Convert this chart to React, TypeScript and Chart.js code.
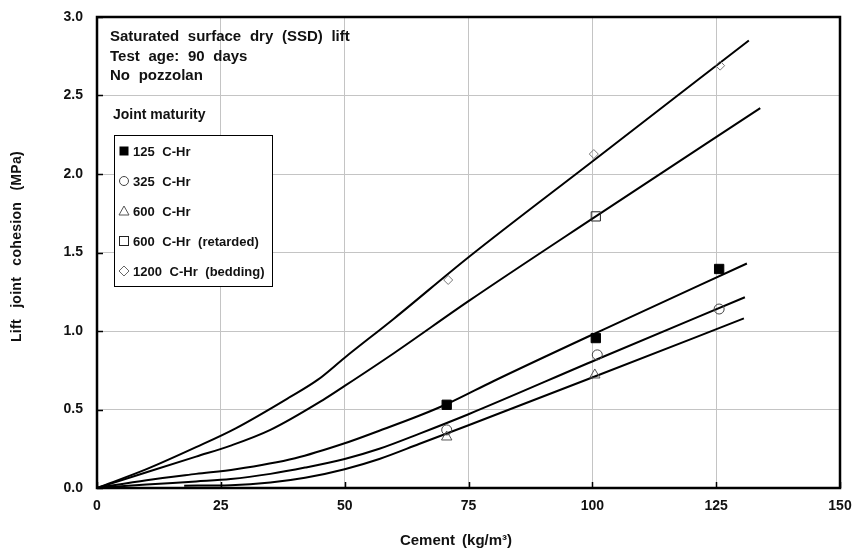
import { useEffect, useRef } from "react";
import { Chart, registerables } from "chart.js";

Chart.register(...registerables);

// Axis ticks
const xTicks = [0, 25, 50, 75, 100, 125, 150];
const yTicks = [0, 0.5, 1.0, 1.5, 2.0, 2.5, 3.0];

// Legend / series names
const seriesNames = [
  "125 C-Hr",
  "325 C-Hr",
  "600 C-Hr",
  "600 C-Hr (retarded)",
  "1200 C-Hr (bedding)",
];

const noteLines = ["Saturated surface dry (SSD) lift", "Test age: 90 days", "No pozzolan"];
const legendTitle = "Joint maturity";
const xTitle = "Cement (kg/m³)";
const yTitle = "Lift joint cohesion (MPa)";

// Measured points
const obs125X = [70.6, 100.7, 125.6];
const obs125Y = [0.53, 0.955, 1.395];
const obs325X = [70.6, 101.0, 125.6];
const obs325Y = [0.37, 0.848, 1.14];
const obs600X = [70.6, 100.5];
const obs600Y = [0.325, 0.72];
const obsRetX = [100.7];
const obsRetY = [1.73];
const obsBedX = [70.9, 100.3, 125.8];
const obsBedY = [1.325, 2.127, 2.69];

// Fitted curves
const fit125X = [0, 10, 20, 28, 40, 50, 57, 65, 71, 80, 102, 131.2];
const fit125Y = [0, 0.05, 0.09, 0.12, 0.19, 0.285, 0.365, 0.46, 0.54, 0.68, 1.006, 1.43];
const fit325X = [0, 10, 20, 27, 35, 42, 50, 57, 65, 75, 101, 130.8];
const fit325Y = [0, 0.022, 0.042, 0.057, 0.09, 0.13, 0.185, 0.25, 0.345, 0.47, 0.82, 1.215];
const fit600X = [17.6, 27, 35, 42, 50, 57, 65, 75, 100.5, 130.6];
const fit600Y = [0.015, 0.018, 0.035, 0.065, 0.12, 0.185, 0.28, 0.4, 0.71, 1.08];
const fitRetX = [0, 10, 20, 27, 35, 45.6, 50, 60, 75, 100.7, 133.9];
const fitRetY = [0, 0.1, 0.2, 0.27, 0.37, 0.56, 0.65, 0.86, 1.19, 1.73, 2.42];
const fitBedX = [0, 10, 20, 28, 39, 44.6, 50, 60, 75, 100, 131.6];
const fitBedY = [0, 0.12, 0.26, 0.38, 0.58, 0.69, 0.83, 1.08, 1.47, 2.08, 2.85];

const zip = (xs: number[], ys: number[]) => xs.map((x, i) => ({ x, y: ys[i] }));

const FONT = "'Liberation Sans', Arial, sans-serif";

function drawMarker(ctx: CanvasRenderingContext2D, kind: number, x: number, y: number) {
  ctx.save();
  ctx.lineWidth = 1;
  ctx.beginPath();
  if (kind === 0) {
    ctx.fillStyle = "#000";
    ctx.fillRect(x - 4.5, y - 4.5, 9, 9);
  } else if (kind === 1) {
    ctx.strokeStyle = "#444";
    ctx.arc(x, y, 4.5, 0, Math.PI * 2);
    ctx.stroke();
  } else if (kind === 2) {
    ctx.strokeStyle = "#555";
    ctx.moveTo(x, y - 5);
    ctx.lineTo(x + 5, y + 4);
    ctx.lineTo(x - 5, y + 4);
    ctx.closePath();
    ctx.stroke();
  } else if (kind === 3) {
    ctx.strokeStyle = "#222";
    ctx.strokeRect(x - 4.5, y - 4.5, 9, 9);
  } else {
    ctx.strokeStyle = "#666";
    ctx.moveTo(x, y - 5);
    ctx.lineTo(x + 5, y);
    ctx.lineTo(x, y + 5);
    ctx.lineTo(x - 5, y);
    ctx.closePath();
    ctx.stroke();
  }
  ctx.restore();
}

const decorPlugin = {
  id: "decor",
  beforeDatasetsDraw(chart: any) {
    const { ctx, chartArea: a, scales } = chart;
    const xs = scales.x;
    const ys = scales.y;
    ctx.save();
    ctx.strokeStyle = "#000";
    ctx.lineWidth = 1.5;
    ctx.beginPath();
    xTicks.forEach((v) => {
      const px = Math.round(xs.getPixelForValue(v)) + 0.5;
      ctx.moveTo(px, a.bottom);
      ctx.lineTo(px, a.bottom - 6);
    });
    yTicks.forEach((v) => {
      const py = Math.round(ys.getPixelForValue(v)) + 0.5;
      ctx.moveTo(a.left, py);
      ctx.lineTo(a.left + 6, py);
    });
    ctx.stroke();
    ctx.lineWidth = 2.5;
    ctx.strokeRect(a.left, a.top, a.right - a.left, a.bottom - a.top);
    ctx.restore();
  },
  afterDraw(chart: any) {
    const { ctx, chartArea: a } = chart;
    ctx.save();
    ctx.fillStyle = "#111";
    ctx.textBaseline = "middle";
    ctx.textAlign = "left";
    // notes
    ctx.font = `bold 15px ${FONT}`;
    (ctx as any).wordSpacing = "4.5px";
    const noteY = [37, 57, 76];
    noteLines.forEach((t, i) => ctx.fillText(t, 110, noteY[i]));
    (ctx as any).wordSpacing = "0px";
    // legend title
    ctx.font = `bold 14px ${FONT}`;
    ctx.fillText(legendTitle, 113, 115);
    // legend box
    ctx.fillStyle = "#fff";
    ctx.fillRect(114, 135, 158, 151);
    ctx.strokeStyle = "#000";
    ctx.lineWidth = 1;
    ctx.strokeRect(114.5, 135.5, 158, 151);
    ctx.font = `bold 13px ${FONT}`;
    (ctx as any).wordSpacing = "4px";
    const ly = [151, 181, 211, 241, 271];
    seriesNames.forEach((n, i) => {
      drawMarker(ctx, i, 124, ly[i]);
      ctx.fillStyle = "#111";
      ctx.fillText(n, 133, ly[i] + 1);
    });
    (ctx as any).wordSpacing = "0px";
    // axis titles
    ctx.textAlign = "center";
    ctx.font = `bold 15px ${FONT}`;
    (ctx as any).wordSpacing = "3px";
    ctx.fillText(xTitle, 456, 541);
    ctx.font = `bold 14px ${FONT}`;
    ctx.translate(17, (a.top + a.bottom) / 2 - 6);
    ctx.rotate(-Math.PI / 2);
    (ctx as any).wordSpacing = "7px";
    (ctx as any).letterSpacing = "0.3px";
    ctx.fillText(yTitle, 0, 0);
    ctx.restore();
  },
};

export default function App() {
  const ref = useRef<HTMLCanvasElement | null>(null);
  useEffect(() => {
    document.body.style.margin = "0";
    const canvas = ref.current!;
    const lineDs = (xs: number[], ys: number[]) => ({
      type: "line" as const,
      data: zip(xs, ys),
      borderColor: "#000",
      borderWidth: 2,
      pointRadius: 0,
      fill: false,
      cubicInterpolationMode: "monotone" as const,
      order: 2,
    });
    const ptDs = (xs: number[], ys: number[], style: string, r: number, bg: string, bc: string, label: string) => ({
      type: "scatter" as const,
      label,
      data: zip(xs, ys),
      pointStyle: style,
      pointRadius: r,
      backgroundColor: bg,
      borderColor: bc,
      borderWidth: 1,
      showLine: false,
      order: 1,
    });
    const chart = new Chart(canvas, {
      type: "scatter",
      data: {
        datasets: [
          lineDs(fit125X, fit125Y),
          lineDs(fit325X, fit325Y),
          lineDs(fit600X, fit600Y),
          lineDs(fitRetX, fitRetY),
          lineDs(fitBedX, fitBedY),
          ptDs(obs125X, obs125Y, "rect", 6.6, "#000", "#000", seriesNames[0]),
          ptDs(obs325X, obs325Y, "circle", 5, "rgba(255,255,255,0)", "#444", seriesNames[1]),
          ptDs(obs600X, obs600Y, "triangle", 6, "rgba(255,255,255,0)", "#555", seriesNames[2]),
          ptDs(obsRetX, obsRetY, "rect", 6.5, "rgba(255,255,255,0)", "#222", seriesNames[3]),
          ptDs(obsBedX, obsBedY, "rectRot", 4.5, "rgba(255,255,255,0)", "#777", seriesNames[4]),
        ] as any,
      },
      options: {
        responsive: false,
        devicePixelRatio: 1,
        animation: false,
        layout: { padding: { left: 0, right: 12, top: 17, bottom: 0 } },
        plugins: { legend: { display: false }, tooltip: { enabled: false } },
        scales: {
          x: {
            type: "linear",
            min: 0,
            max: 150,
            afterFit: (s: any) => {
              s.height = 65;
              s.paddingLeft = 0;
              s.paddingRight = 0;
            },
            afterBuildTicks: (s: any) => {
              s.ticks = xTicks.map((v) => ({ value: v }));
            },
            ticks: {
              font: { family: FONT, size: 14, weight: "bold" },
              color: "#111",
              padding: 10,
              maxRotation: 0,
            },
            grid: { color: "#c4c4c4", lineWidth: 1, drawTicks: false },
            border: { display: false },
          },
          y: {
            type: "linear",
            min: 0,
            max: 3,
            afterFit: (s: any) => {
              s.width = 97;
              s.paddingTop = 0;
              s.paddingBottom = 0;
            },
            afterBuildTicks: (s: any) => {
              s.ticks = yTicks.map((v) => ({ value: v }));
            },
            ticks: {
              font: { family: FONT, size: 14, weight: "bold" },
              color: "#111",
              padding: 14,
              callback: (v: any) => Number(v).toFixed(1),
            },
            grid: { color: "#c4c4c4", lineWidth: 1, drawTicks: false },
            border: { display: false },
          },
        },
      },
      plugins: [decorPlugin],
    });
    return () => chart.destroy();
  }, []);
  return (
    <div style={{ position: "absolute", left: 0, top: 0, width: 852, height: 553, background: "#fff" }}>
      <canvas ref={ref} width={852} height={553} style={{ display: "block" }} />
    </div>
  );
}
